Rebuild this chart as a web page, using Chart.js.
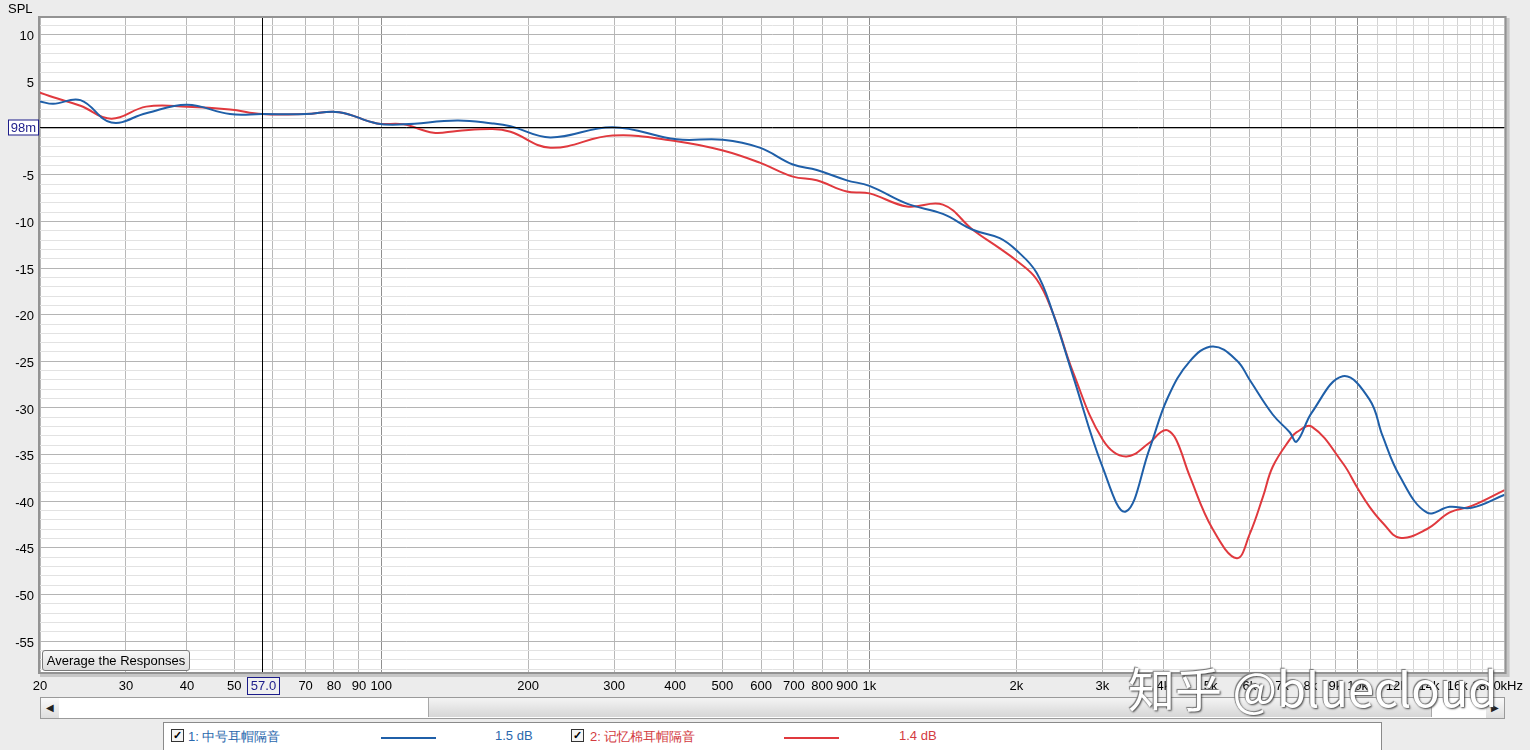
<!DOCTYPE html>
<html>
<head>
<meta charset="utf-8">
<script src="https://cdn.jsdelivr.net/npm/chart.js@4.4.0/dist/chart.umd.min.js"></script>
<style>
body{margin:0;width:1530px;height:750px;background:#ececec;font-family:"Liberation Sans",Arial,sans-serif;overflow:hidden;position:relative}
#chart{position:absolute;left:0;top:0}
.spl{position:absolute;left:8px;top:1px;font-size:13px;color:#000}
.avg{position:absolute;left:42px;top:650px;width:146px;height:19px;border:1px solid #7a7a7a;border-radius:3px;background:linear-gradient(#f8f8f8,#dcdcdc);font-size:13px;line-height:19px;text-align:center;color:#000}
.scroll{position:absolute;left:40px;top:697px;width:1463px;height:20px;border:1px solid #9a9a9a;background:#fff}
.sbtn{position:absolute;top:0;width:18px;height:20px;background:linear-gradient(#fafafa,#dedede);font-size:10px;line-height:20px;text-align:center;color:#222}
.thumb{position:absolute;left:387px;top:0;width:1002px;height:19px;border:1px solid #a8a8a8;border-top:none;border-bottom:none;background:linear-gradient(#f4f4f4,#d6d6d6)}
.legend{position:absolute;left:163px;top:722px;width:1217px;height:40px;background:#fff;border:1px solid #8a8a8a;font-size:13px}
.legend span{position:absolute;top:5px;white-space:nowrap}
.cb{position:absolute;top:6px;width:11px;height:11px;border:1px solid #333;font-size:11px;line-height:11px;text-align:center;background:#f4f4f4;color:#000;font-weight:bold}
.sw{position:absolute;top:14px;height:2px}
.wm{position:absolute;left:1128px;top:652px;font-family:"Noto Sans CJK SC",sans-serif;font-size:47px;color:#fff;text-shadow:1px 1px 2px #444,-1px -1px 1px #777;white-space:nowrap}
</style>
</head>
<body>
<canvas id="chart" width="1530" height="750"></canvas>
<div class="spl">SPL</div>
<div class="avg">Average the Responses</div>
<div class="scroll">
  <div class="sbtn" style="left:0">&#9664;</div>
  <div class="thumb"></div>
  <div class="sbtn" style="right:0">&#9654;</div>
</div>
<div class="legend">
  <div class="cb" style="left:7px">&#10003;</div>
  <span style="left:24px;color:#2a68ad">1: 中号耳帽隔音</span>
  <div class="sw" style="left:217px;width:55px;background:#1f5fa8"></div>
  <span style="left:331px;color:#2a68ad">1.5 dB</span>
  <div class="cb" style="left:407px">&#10003;</div>
  <span style="left:426px;color:#d33b3f">2: 记忆棉耳帽隔音</span>
  <div class="sw" style="left:620px;width:55px;background:#e0393e"></div>
  <span style="left:735px;color:#d33b3f">1.4 dB</span>
</div>
<div class="wm">知乎 @bluecloud</div>
<script>
// 1: 中号耳帽隔音 (Hz / dB)
const mediumFreqs = [20, 21.3, 24.2, 28, 33, 40, 49, 57, 70, 82, 98, 111, 143, 169, 184, 222, 298, 403, 501, 596, 697, 780, 899, 1000, 1193, 1414, 1628, 1849, 2000, 2200, 2375, 2610, 3006, 3350, 3752, 4083, 4530, 5050, 5656, 6013, 6700, 7260, 7503, 8055, 9320, 10580, 11250, 12195, 13850, 15440, 17130, 20000]
const mediumDb = [2.85, 2.6, 3.0, 0.6, 1.6, 2.5, 1.5, 1.5, 1.5, 1.7, 0.5, 0.4, 0.8, 0.5, 0.2, -1.0, 0.1, -1.2, -1.25, -2.1, -3.9, -4.5, -5.6, -6.2, -8.1, -9.2, -10.9, -11.8, -13.1, -15.5, -19.8, -26.5, -36.4, -41.1, -34.3, -28.9, -25.0, -23.4, -24.9, -27.0, -30.7, -32.6, -33.6, -30.5, -26.6, -29.1, -33.0, -37.3, -41.2, -40.6, -40.7, -39.3]
// 2: 记忆棉耳帽隔音 (Hz / dB)
const foamFreqs = [20, 21.3, 24.2, 28, 33, 40, 49, 57, 70, 82, 98, 111, 128, 143, 169, 184, 222, 298, 403, 501, 596, 697, 780, 899, 1000, 1193, 1414, 1628, 1849, 2000, 2200, 2375, 2610, 3006, 3350, 3752, 3950, 4083, 4250, 4530, 5050, 5656, 6013, 6400, 6700, 7260, 7503, 8055, 9320, 10000, 10580, 11250, 12195, 13850, 15440, 17130, 20000]
const foamDb = [3.8, 3.3, 2.4, 1.0, 2.3, 2.3, 2.0, 1.5, 1.5, 1.7, 0.5, 0.4, -0.5, -0.3, -0.1, -0.4, -2.1, -0.8, -1.4, -2.4, -3.7, -5.2, -5.6, -6.8, -7.0, -8.4, -8.2, -10.9, -12.9, -14.2, -16.2, -19.8, -26.1, -33.4, -35.2, -33.7, -32.6, -32.4, -33.4, -37.3, -43.0, -46.1, -43.5, -39.5, -36.3, -33.4, -32.6, -32.0, -35.9, -38.6, -40.6, -42.3, -43.9, -43.0, -41.2, -40.5, -38.8]

const xTickValues = [20, 30, 40, 50, 60, 70, 80, 90, 100, 200, 300, 400, 500, 600, 700, 800, 900, 1000, 2000, 3000, 4000, 5000, 6000, 7000, 8000, 9000, 10000, 11000, 12000, 13000, 14000, 15000, 16000, 17000, 18000, 19000, 20000]
const xTickLabels = ['20', '30', '40', '50', '', '70', '80', '90', '100', '200', '300', '400', '500', '600', '700', '800', '900', '1k', '2k', '3k', '4k', '5k', '6k', '7k', '8k', '9k', '10k', '', '12k', '', '14k', '', '16k', '', '18k', '', '20kHz']
const yTickValues = []
for (let v = -58; v <= 11; v++) yTickValues.push(v)

const cursorFreq = 57
const cursorDb = 0.1

function toPoints(xs, ys){
  return xs.map((f, i) => ({x: f, y: ys[i]}))
}

const framePlugin = {
  id: 'frame',
  beforeDraw(chart){
    const {ctx, chartArea: a} = chart
    ctx.save()
    ctx.fillStyle = '#fff'
    ctx.fillRect(a.left, a.top, a.right - a.left, a.bottom - a.top)
    ctx.restore()
  },
  afterDraw(chart){
    const {ctx, chartArea: a, scales} = chart
    ctx.save()
    // cursor lines
    const cx = Math.round(scales.x.getPixelForValue(cursorFreq)) + 0.5
    const cy = Math.round(scales.y.getPixelForValue(cursorDb)) + 0.5
    ctx.strokeStyle = '#000'
    ctx.lineWidth = 1
    ctx.beginPath()
    ctx.moveTo(cx, a.top); ctx.lineTo(cx, a.bottom)
    ctx.moveTo(a.left, cy); ctx.lineTo(a.right, cy)
    ctx.stroke()
    // frame
    ctx.strokeStyle = '#c6c6c6'
    ctx.lineWidth = 4
    ctx.beginPath()
    ctx.moveTo(a.right + 3, a.top); ctx.lineTo(a.right + 3, a.bottom + 3); ctx.lineTo(a.left, a.bottom + 3)
    ctx.stroke()
    ctx.strokeStyle = '#939393'
    ctx.lineWidth = 2
    ctx.strokeRect(a.left - 1, a.top - 1, a.right - a.left + 2, a.bottom - a.top + 2)
    // value boxes
    ctx.font = '13px "Liberation Sans", Arial, sans-serif'
    ctx.textBaseline = 'middle'
    ctx.textAlign = 'center'
    ctx.fillStyle = '#fff'
    ctx.fillRect(8.5, cy - 7.5, 30, 15)
    ctx.strokeStyle = '#1c1c8a'
    ctx.lineWidth = 1
    ctx.strokeRect(8.5, cy - 7.5, 30, 15)
    ctx.fillStyle = '#1c1c8a'
    ctx.fillText('98m', 23.5, cy + 1)
    ctx.fillStyle = '#f0f0f0'
    ctx.fillRect(cx - 15, 677.5, 32, 17)
    ctx.strokeRect(cx - 15, 677.5, 32, 17)
    ctx.fillStyle = '#1c1c8a'
    ctx.fillText('57.0', cx + 1, 686.5)
    ctx.restore()
  }
}

function drawChart(){
  new Chart(document.getElementById('chart').getContext('2d'), {
    type: 'line',
    data: {
      datasets: [{
        label: '1: 中号耳帽隔音',
        data: toPoints(mediumFreqs, mediumDb),
        borderColor: '#1f5fa8',
        borderWidth: 2,
        pointRadius: 0,
        tension: 0.4
      }, {
        label: '2: 记忆棉耳帽隔音',
        data: toPoints(foamFreqs, foamDb),
        borderColor: '#e0393e',
        borderWidth: 2,
        pointRadius: 0,
        tension: 0.4
      }]
    },
    options: {
      responsive: false,
      animation: false,
      devicePixelRatio: 1,
      layout: {padding: {left: 0, top: 18, right: 25, bottom: 56}},
      plugins: {legend: {display: false}, tooltip: {enabled: false}},
      scales: {
        x: {
          type: 'logarithmic',
          min: 20,
          max: 20000,
          afterBuildTicks: s => { s.ticks = xTickValues.map(v => ({value: v})) },
          afterFit: s => { s.height = 22 },
          border: {display: false},
          grid: {
            drawTicks: false,
            color: c => {
              const v = c.tick ? c.tick.value : 0
              if (v === 100 || v === 1000 || v === 10000) return '#8f8f8f'
              if (v > 10000) return '#d4d4d4'
              return '#b8b8b8'
            }
          },
          ticks: {
            autoSkip: false,
            maxRotation: 0,
            padding: 7,
            color: '#000',
            font: {family: '"Liberation Sans", Arial, sans-serif', size: 13},
            callback: (v, i) => xTickLabels[i]
          }
        },
        y: {
          min: -58.3,
          max: 11.8,
          afterBuildTicks: s => { s.ticks = yTickValues.map(v => ({value: v})) },
          afterFit: s => { s.width = 40 },
          border: {display: false},
          grid: {
            drawTicks: false,
            color: c => (c.tick && c.tick.value % 5 === 0) ? '#b4b4b4' : '#e2e2e2'
          },
          ticks: {
            autoSkip: false,
            padding: 6,
            labelOffset: 2,
            color: '#000',
            font: {family: '"Liberation Sans", Arial, sans-serif', size: 13},
            callback: v => (v % 5 === 0 && v !== 0) ? String(v) : ''
          }
        }
      }
    },
    plugins: [framePlugin]
  })
}

drawChart()
</script>
</body>
</html>
